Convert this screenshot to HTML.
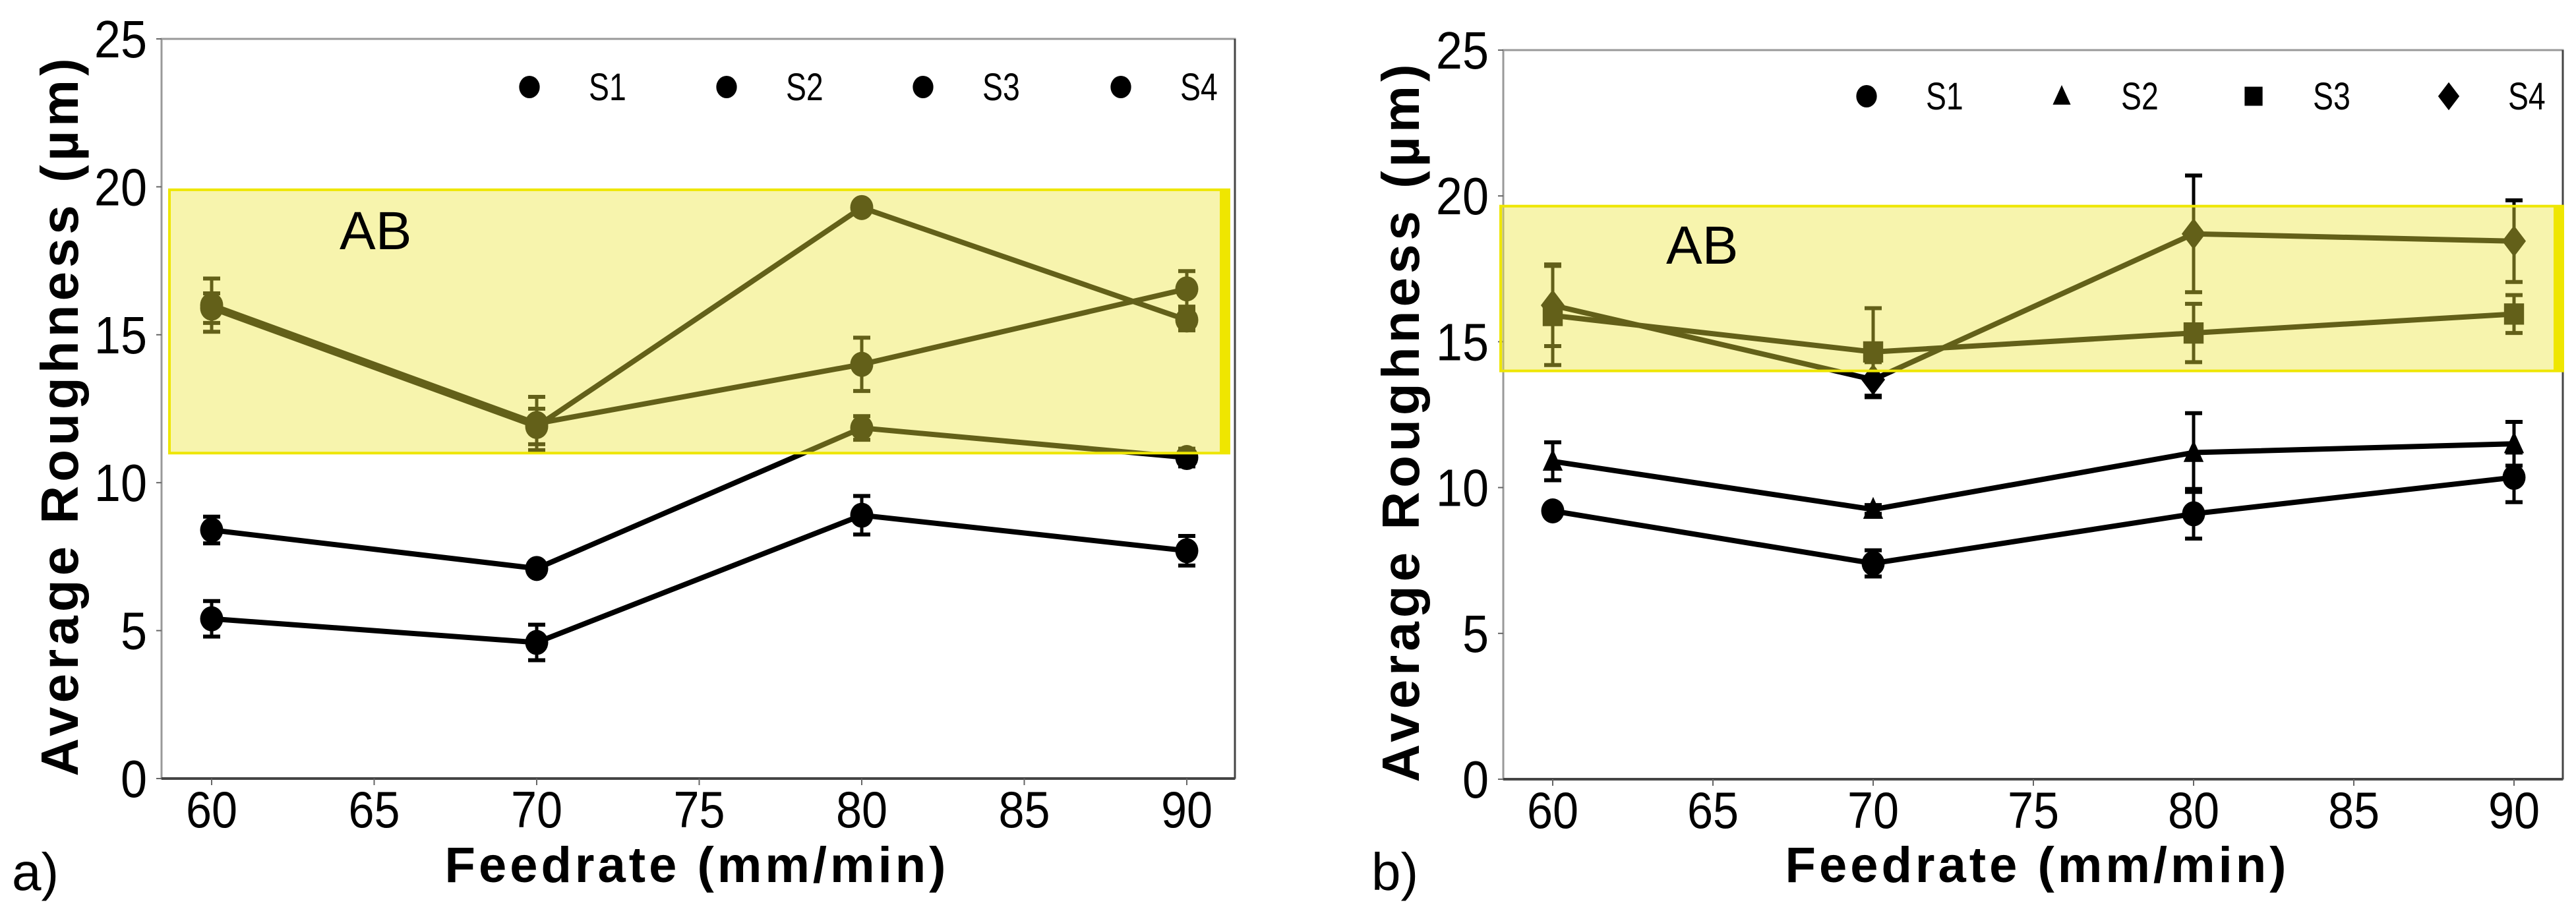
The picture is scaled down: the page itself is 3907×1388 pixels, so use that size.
<!DOCTYPE html>
<html><head><meta charset="utf-8"><style>
html,body{margin:0;padding:0;background:#fff;}
svg{display:block;}
text{font-family:"Liberation Sans",sans-serif;}
</style></head><body>
<svg id="fig" width="3907" height="1388" viewBox="0 0 3907 1388" xmlns="http://www.w3.org/2000/svg"></svg>
<script>
const feedrates = [60, 70, 80, 90];
const xTicks = [60, 65, 70, 75, 80, 85, 90];
const yTicks = [0, 5, 10, 15, 20, 25];
const seriesNames = ["S1", "S2", "S3", "S4"];
// panel a
const aS1 = [5.4, 4.6, 8.9, 7.7];
const aS1err = [0.6, 0.6, 0.65, 0.5];
const aS2 = [8.4, 7.1, 11.85, 10.85];
const aS2err = [0.45, 0.15, 0.4, 0.3];
const aS3 = [16.0, 12.0, 14.0, 16.55];
const aS3err = [0.9, 0.9, 0.9, 0.6];
const aS4 = [15.9, 11.9, 19.3, 15.5];
const aS4err = [0.5, 0.6, 0.15, 0.35];
const aBand = [11.0, 19.9];
// panel b
const bS1 = [9.2, 7.4, 9.1, 10.35];
const bS1err = [0.2, 0.45, 0.85, 0.85];
const bS2 = [10.9, 9.25, 11.2, 11.5];
const bS2err = [0.65, 0.15, 1.35, 0.75];
const bS3 = [15.9, 14.65, 15.3, 15.95];
const bS3err = [1.7, 1.5, 1.0, 0.65];
const bS4 = [16.25, 13.7, 18.7, 18.45];
const bS4err = [1.4, 0.6, 2.0, 1.4];
const bBand = [14.0, 19.65];

const NS = "http://www.w3.org/2000/svg";
const svg = document.getElementById("fig");
function el(tag, attrs, parent) {
  const e = document.createElementNS(NS, tag);
  for (const k in attrs) e.setAttribute(k, attrs[k]);
  (parent || svg).appendChild(e);
  return e;
}
function marker(g, shape, cx, cy, r) {
  let m;
  if (shape === "circle") m = el("ellipse", {cx: cx, cy: cy, rx: r * 0.92, ry: r, fill: "#000"}, g);
  else if (shape === "triangle") m = el("polygon", {points: `${cx},${cy - r} ${cx - r * 0.8},${cy + r * 0.75} ${cx + r * 0.8},${cy + r * 0.75}`, fill: "#000"}, g);
  else if (shape === "square") m = el("rect", {x: cx - r * 0.8, y: cy - r * 0.85, width: r * 1.6, height: r * 1.7, fill: "#000"}, g);
  else m = el("polygon", {points: `${cx},${cy - r * 1.25} ${cx + r * 0.95},${cy} ${cx},${cy + r * 1.25} ${cx - r * 0.95},${cy}`, fill: "#000"}, g);
  return m;
}
function drawPanel(p) {
  const X = v => p.x60 + (v - 60) * p.xs;
  const Y = v => p.y0 - v * p.ys;
  const g = el("g", {});
  
  
  const frame = el("rect", {x: p.L, y: p.T, width: p.R - p.L, height: p.y0 - p.T, fill: "none", stroke: "#999", "stroke-width": 3}, g);
  
  
  el("line", {x1: p.L, y1: p.y0, x2: p.R, y2: p.y0, stroke: "#444", "stroke-width": 4}, g);
  el("line", {x1: p.R, y1: p.T, x2: p.R, y2: p.y0, stroke: "#444", "stroke-width": 3}, g);
  yTicks.forEach(t => {
    el("line", {x1: p.L - 8, y1: Y(t), x2: p.L, y2: Y(t), stroke: "#666", "stroke-width": 2}, g);
    const tx = el("text", {x: p.L - 22, y: Y(t) + 28, "font-size": 80, "text-anchor": "end", fill: "#000", transform: `translate(${p.L - 22},0) scale(0.9,1) translate(${-(p.L - 22)},0)`}, g);
    tx.textContent = t;
    
    
  });
  xTicks.forEach(t => {
    el("line", {x1: X(t), y1: p.y0, x2: X(t), y2: p.y0 + 10, stroke: "#666", "stroke-width": 2}, g);
    const tx = el("text", {x: X(t), y: p.y0 + 74, "font-size": 78, "text-anchor": "middle", fill: "#000", transform: `translate(${X(t)},0) scale(0.9,1) translate(${-X(t)},0)`}, g);
    tx.textContent = t;
    
    
  });
  const xt = el("text", {x: p.xTitleX, y: 1338, "font-size": 76, "font-weight": "bold", "text-anchor": "middle", "letter-spacing": 5, fill: "#000", "font-family": "DejaVu Sans, sans-serif"}, g);
  xt.textContent = "Feedrate (mm/min)";
  
  
  const yt = el("text", {x: 0, y: 0, "font-size": 80, "font-weight": "bold", "text-anchor": "middle", fill: "#000", "font-family": "DejaVu Sans, sans-serif", "letter-spacing": 6, transform: `translate(${p.yTitleX},${(p.T + p.y0) / 2 + 10}) rotate(-90)`}, g);
  yt.textContent = "Average Roughness (\u00b5m)";
  
  
  const pl = el("text", {x: p.panelX, y: 1350, "font-size": 80, fill: "#000"}, g);
  pl.textContent = p.panelLabel;
  
  
  p.series.forEach((s, i) => {
    const sg = el("g", {}, g);
    
    
    const pts = feedrates.map((f, j) => `${X(f)},${Y(s.v[j])}`).join(" ");
    el("polyline", {points: pts, fill: "none", stroke: "#000", "stroke-width": 8}, sg);
    feedrates.forEach((f, j) => {
      const cx = X(f), hi = Y(s.v[j] + s.e[j]), lo = Y(s.v[j] - s.e[j]);
      el("line", {x1: cx, y1: hi, x2: cx, y2: lo, stroke: "#000", "stroke-width": 5}, sg);
      el("line", {x1: cx - 13, y1: hi, x2: cx + 13, y2: hi, stroke: "#000", "stroke-width": 6}, sg);
      el("line", {x1: cx - 13, y1: lo, x2: cx + 13, y2: lo, stroke: "#000", "stroke-width": 6}, sg);
      const m = marker(sg, p.shapes[i], cx, Y(s.v[j]), 19);
      
      
    });
  });
  p.legendMarkX.forEach((lx, i) => {
    const lm = marker(g, p.shapes[i], lx, p.legendY, 17);
    
    
    const lt = el("text", {x: lx + 90, y: p.legendY + 20, "font-size": 58, fill: "#000", transform: `translate(${lx + 90},0) scale(0.8,1) translate(${-(lx + 90)},0)`}, g);
    lt.textContent = seriesNames[i];
    
    
  });
  const bg = el("g", {}, g);
  
  
  el("rect", {x: p.bandL, y: Y(p.band[1]), width: p.bandR - p.bandL, height: Y(p.band[0]) - Y(p.band[1]), fill: "rgb(236,228,60)", "fill-opacity": 0.42, stroke: "#eee600", "stroke-width": 4}, bg);
  el("rect", {x: p.bandR - 14, y: Y(p.band[1]), width: 14, height: Y(p.band[0]) - Y(p.band[1]), fill: "#efe600"}, bg);
  const ab = el("text", {x: p.abX, y: p.abY, "font-size": 82, fill: "#000"}, g);
  ab.textContent = "AB";
  
  
}
drawPanel({
  name: "panel-a", L: 245, R: 1873, T: 59, y0: 1181, ys: 44.88, x60: 321, xs: 49.3,
  series: [{v: aS1, e: aS1err}, {v: aS2, e: aS2err}, {v: aS3, e: aS3err}, {v: aS4, e: aS4err}],
  shapes: ["circle", "circle", "circle", "circle"], band: aBand, bandL: 257, bandR: 1864,
  legendMarkX: [803, 1102, 1400, 1700], legendY: 132, abX: 515, abY: 378,
  xTitleX: 1057, yTitleX: 118, panelX: 18, panelLabel: "a)"
});
drawPanel({
  name: "panel-b", L: 2280, R: 3887, T: 76, y0: 1182, ys: 44.24, x60: 2355, xs: 48.6,
  series: [{v: bS1, e: bS1err}, {v: bS2, e: bS2err}, {v: bS3, e: bS3err}, {v: bS4, e: bS4err}],
  shapes: ["circle", "triangle", "square", "diamond"], band: bBand, bandL: 2276, bandR: 3887,
  legendMarkX: [2831, 3127, 3418, 3714], legendY: 146, abX: 2527, abY: 400,
  xTitleX: 3090, yTitleX: 2152, panelX: 2080, panelLabel: "b)"
});
</script>
</body></html>
